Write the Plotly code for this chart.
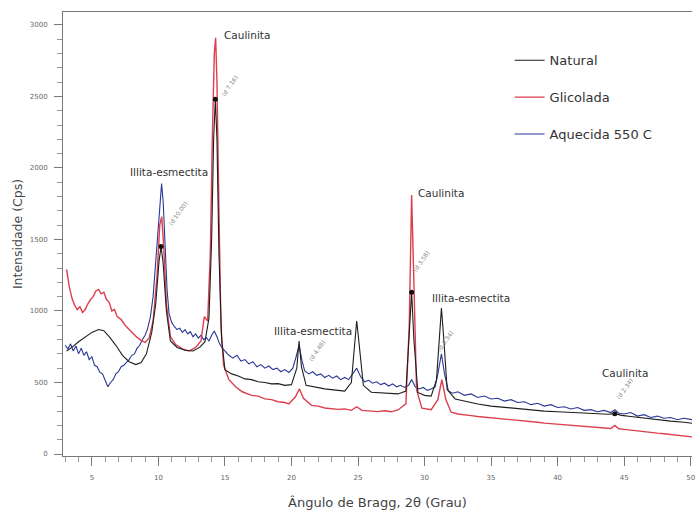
import plotly.graph_objects as go

# Difratograma de raios X - fração argila (Natural, Glicolada, Aquecida 550 C)

nat_x = [3.1, 3.5, 4.0, 4.5, 5.0, 5.5, 5.9, 6.3, 6.8, 7.3, 7.8, 8.3, 8.7, 9.1, 9.5, 9.8,
         10.05, 10.2, 10.35, 10.6, 10.9, 11.4, 12.0, 12.6, 13.1, 13.5, 13.8, 14.0, 14.15,
         14.28, 14.4, 14.55, 14.75, 15.0, 15.5, 16.0, 16.5, 17.0, 17.5, 18.0, 18.5, 19.0,
         19.5, 20.0, 20.4, 20.57, 20.75, 21.1, 21.6, 22.0, 22.5, 23.0, 23.5, 24.0, 24.5,
         24.75, 24.9, 25.05, 25.4, 26.0, 26.5, 27.0, 27.5, 28.0, 28.6, 28.85, 29.03, 29.2,
         29.5, 30.0, 30.5, 30.9, 31.1, 31.27, 31.45, 31.7, 32.3, 33.0, 34.0, 35.0, 36.0,
         37.0, 38.0, 39.0, 40.0, 41.0, 42.0, 43.0, 43.8, 44.3, 44.8, 45.5, 46.5, 47.5,
         48.5, 49.5, 50.1]
nat_y = [720, 745, 785, 815, 850, 870, 862, 820, 760, 690, 645, 625, 640, 700, 850, 1050,
         1350, 1450, 1340, 1000, 790, 745, 725, 720, 745, 785, 950, 1500, 2200,
         2480, 2200, 1400, 800, 590, 560, 545, 525, 520, 505, 500, 490, 492,
         480, 485, 600, 790, 610, 480, 470, 462, 455, 450, 445, 440, 500,
         790, 930, 800, 480, 432, 428, 425, 420, 420, 440, 800, 1130, 800,
         430, 410, 405, 520, 800, 1020, 800, 450, 385, 370, 350, 335, 325,
         315, 305, 300, 295, 290, 285, 280, 278, 282, 270, 262, 250, 240,
         230, 222, 215]

gli_x = [3.1, 3.3, 3.5, 3.7, 3.9, 4.1, 4.3, 4.5, 4.7, 4.9, 5.1, 5.3, 5.5, 5.7, 5.9, 6.1,
         6.3, 6.5, 6.7, 6.9, 7.2, 7.5, 7.8, 8.1, 8.4, 8.7, 9.0, 9.3, 9.6, 9.9, 10.1, 10.25,
         10.4, 10.6, 10.9, 11.3, 11.8, 12.3, 12.8, 13.2, 13.45, 13.7, 13.9, 14.05, 14.2,
         14.3, 14.4, 14.55, 14.7, 14.9, 15.3, 15.8, 16.3, 17.0, 17.5, 18.0, 18.5, 19.0,
         19.5, 19.8, 20.3, 20.6, 20.9, 21.5, 22.0, 22.5, 23.0, 23.5, 24.0, 24.5, 24.9,
         25.3, 26.0, 26.5, 27.0, 27.5, 28.0, 28.6, 28.85, 29.03, 29.2, 29.4, 29.8, 30.5,
         31.0, 31.3, 31.6, 32.0, 32.5, 33.0, 33.5, 34.0, 34.5, 35.0, 35.5, 36.0, 36.5,
         37.0, 37.5, 38.0, 38.5, 39.0, 39.5, 40.0, 40.5, 41.0, 41.5, 42.0, 42.5, 43.0,
         43.5, 44.0, 44.3, 44.6, 45.0, 45.5, 46.0, 46.5, 47.0, 47.5, 48.0, 48.5, 49.0,
         49.5, 50.1]
gli_y = [1290, 1170, 1090, 1040, 1010, 1030, 990, 1010, 1050, 1080, 1100, 1140, 1150, 1120,
         1130, 1080, 1060, 1000, 1010, 960, 940, 900, 870, 840, 815, 795, 780, 810, 930, 1250,
         1600, 1660, 1450, 1050, 820, 765, 735, 720, 745, 790, 960, 930, 1400, 2200, 2800,
         2910, 2600, 1700, 900, 620, 520, 470, 435, 410, 405, 385, 380, 365,
         360, 350, 400, 455, 390, 340, 335, 322, 318, 312, 315, 305, 330,
         305, 300, 296, 302, 295, 308, 350, 900, 1810, 1200, 450, 320, 310,
         380, 520, 380, 292, 280, 272, 268, 262, 258, 252, 248, 242, 238,
         235, 230, 226, 222, 216, 212, 206, 204, 200, 196, 190, 188, 185,
         182, 178, 200, 176, 172, 166, 160, 156, 152, 146, 142, 136, 132,
         126, 120]

aq_x = [3.0, 3.2, 3.4, 3.6, 3.8, 4.0, 4.2, 4.4, 4.6, 4.8, 5.0, 5.2, 5.4, 5.6, 5.8, 6.0,
        6.2, 6.4, 6.6, 6.8, 7.0, 7.2, 7.4, 7.6, 7.8, 8.0, 8.2, 8.4, 8.6, 8.8, 9.0, 9.2,
        9.4, 9.6, 9.8, 10.0, 10.12, 10.24, 10.36, 10.5, 10.65, 10.8, 11.0, 11.2, 11.4,
        11.6, 11.8, 12.0, 12.2, 12.4, 12.6, 12.8, 13.0, 13.2, 13.4, 13.6, 13.8, 14.0,
        14.2, 14.4, 14.6, 14.8, 15.0, 15.3, 15.6, 15.9, 16.2, 16.5, 16.8, 17.1, 17.4,
        17.7, 18.0, 18.3, 18.6, 18.9, 19.2, 19.5, 19.8, 20.1, 20.35, 20.57, 20.8, 21.0,
        21.3, 21.6, 21.9, 22.2, 22.5, 22.8, 23.1, 23.4, 23.7, 24.0, 24.3, 24.6, 24.9,
        25.2, 25.5, 25.8, 26.1, 26.4, 26.7, 27.0, 27.3, 27.6, 27.9, 28.2, 28.5, 28.8,
        29.03, 29.3, 29.6, 29.9, 30.2, 30.5, 30.8, 31.0, 31.27, 31.5, 31.8, 32.1, 32.5,
        33.0, 33.5, 34.0, 34.5, 35.0, 35.5, 36.0, 36.5, 37.0, 37.5, 38.0, 38.5, 39.0,
        39.5, 40.0, 40.5, 41.0, 41.5, 42.0, 42.5, 43.0, 43.5, 44.0, 44.3, 44.6, 45.0,
        45.5, 46.0, 46.5, 47.0, 47.5, 48.0, 48.5, 49.0, 49.5, 50.1]
aq_y = [760, 735, 770, 720, 755, 700, 740, 690, 715, 660, 680, 620, 610, 570, 560, 510,
        470, 500, 520, 560, 575, 610, 620, 640, 660, 690, 700, 740, 760, 800, 830, 880,
        960, 1100, 1350, 1650, 1800, 1890, 1760, 1450, 1150, 980, 920, 890, 870,
        880, 850, 870, 840, 855, 820, 840, 810, 830, 800, 815, 790, 830,
        860, 820, 770, 740, 720, 690, 670, 690, 650, 660, 630, 645, 610,
        625, 600, 615, 590, 600, 575, 590, 570, 600, 680, 760, 650, 580,
        560, 575, 550, 560, 535, 550, 530, 545, 520, 535, 520, 560, 600,
        540, 505, 515, 495, 505, 485, 495, 475, 490, 470, 480, 465, 480,
        520, 470, 455, 465, 445, 455, 470, 560, 700, 560, 440, 425, 435,
        410, 420, 395, 405, 385, 390, 370, 380, 360, 365, 345, 355, 335,
        345, 325, 330, 315, 325, 305, 310, 295, 305, 290, 310, 285, 280,
        290, 265, 275, 255, 265, 250, 255, 240, 250, 240]

# picos identificados (posições sobre a curva Natural)
pico_x = [10.2, 14.28, 29.03, 44.3]

# rótulos de fase
fase_txt = ["Illita-esmectita", "Caulinita", "Illita-esmectita", "Caulinita",
            "Illita-esmectita", "Caulinita"]
fase_x = [10.76, 16.64, 21.58, 31.23, 33.52, 45.08]
fase_y = [1969, 2929, 862, 1822, 1093, 568]

# rótulos inclinados junto aos picos
d_txt = ["(d 10.00)", "(d 7.16)", "(d 4.48)", "(d 3.58)", "(d 3.34)", "(d 2.34)"]
d_x = [11.44, 15.33, 21.9, 29.77, 31.57, 45.05]
d_y = [1682, 2579, 722, 1352, 792, 455]

FONT = "DejaVu Sans, Liberation Sans, Arial, sans-serif"

fig = go.Figure()

fig.add_trace(go.Scatter(x=aq_x, y=aq_y, mode="lines", name="Aquecida 550 C",
                         line=dict(color="#2a3896", width=1.1), legendrank=3))
fig.add_trace(go.Scatter(x=gli_x, y=gli_y, mode="lines", name="Glicolada",
                         line=dict(color="#dc3f4e", width=1.4), legendrank=2))
fig.add_trace(go.Scatter(x=nat_x, y=nat_y, mode="lines", name="Natural",
                         line=dict(color="#1e1e1e", width=1.1), legendrank=1))

pico_y = [nat_y[nat_x.index(v)] for v in pico_x]
fig.add_trace(go.Scatter(x=pico_x, y=pico_y, mode="markers", showlegend=False,
                         marker=dict(color="#111111", size=5), hoverinfo="skip"))

for t, xx, yy in zip(fase_txt, fase_x, fase_y):
    fig.add_annotation(x=xx, y=yy, text=t, showarrow=False,
                       font=dict(family=FONT, size=10.5, color="#333333"))

for t, xx, yy in zip(d_txt, d_x, d_y):
    fig.add_annotation(x=xx, y=yy, text=t, showarrow=False, textangle=-55,
                       font=dict(family=FONT, size=6, color="#888888"))

fig.update_layout(
    width=695, height=512,
    margin=dict(l=63, r=0, t=12, b=56),
    paper_bgcolor="white", plot_bgcolor="white",
    font=dict(family=FONT, color="#444444"),
    showlegend=True,
    legend=dict(x=0.71, y=0.925, xanchor="left", yanchor="top",
                bgcolor="rgba(0,0,0,0)", font=dict(family=FONT, size=13, color="#333333"),
                tracegroupgap=17, itemwidth=30),
    xaxis=dict(range=[2.83, 50.1], tickvals=[5, 10, 15, 20, 25, 30, 35, 40, 45, 50],
               ticks="outside", ticklen=9, tickcolor="#777777", ticklabelstandoff=6,
               ticklabeloverflow="allow",
               minor=dict(dtick=1, ticks="outside", ticklen=5, tickcolor="#999999"),
               showgrid=False, zeroline=False, showline=True, linecolor="#777777",
               mirror=True, tickfont=dict(family=FONT, size=7, color="#666666"),
               title=dict(text="Ângulo de Bragg, 2θ (Grau)", standoff=16,
                          font=dict(family=FONT, size=13, color="#444444"))),
    yaxis=dict(range=[-14, 3090], tickvals=[0, 500, 1000, 1500, 2000, 2500, 3000],
               ticks="outside", ticklen=8, tickcolor="#777777", ticklabelstandoff=5,
               minor=dict(dtick=100, ticks="outside", ticklen=5, tickcolor="#999999"),
               showgrid=False, zeroline=False, showline=True, linecolor="#777777",
               tickfont=dict(family=FONT, size=7, color="#666666"),
               title=dict(text="Intensidade (Cps)", standoff=4,
                          font=dict(family=FONT, size=12.5, color="#444444"))),
)

for i, tr in enumerate(fig.data[:3]):
    tr.legendgroup = "g%d" % i

fig.write_html("out.html")
